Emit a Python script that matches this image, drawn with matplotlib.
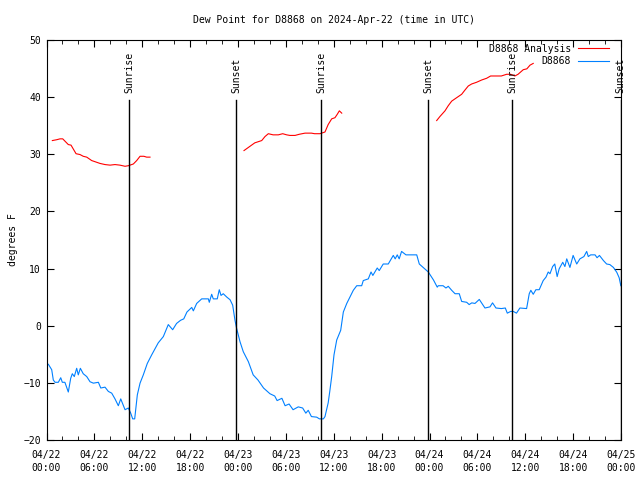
import numpy as np
import pandas as pd
import matplotlib
matplotlib.use('Agg')
import matplotlib.pyplot as plt
import matplotlib.dates as mdates

plt.rcParams['font.family'] = ['DejaVu Sans Mono']
plt.rcParams['font.size'] = 7

start = pd.Timestamp('2024-04-22 00:00')

# D8868 observations: hours since start, dew point (F)
obs_hours = [0.23, 0.65, 0.85, 1.07, 1.48, 1.78, 1.98, 2.3, 2.73, 3.03, 3.23, 3.48, 3.78, 3.98,
             4.24, 4.6, 5.04, 5.45, 5.87, 6.5, 6.8, 7.33, 7.75, 8.17, 8.58, 9.0, 9.3, 9.84,
             10.25, 10.55, 10.8, 11.05, 11.38, 11.72, 12.13, 12.63, 13.18, 14.0, 14.64, 15.26,
             15.81, 16.3, 16.8, 17.2, 17.6, 18.2, 18.4, 18.82, 19.45, 20.28, 20.4, 20.7, 20.9,
             21.4, 21.65, 21.87, 22.15, 22.6, 23.0, 23.33, 23.62, 23.83, 24.25, 24.66, 25.3,
             25.9, 26.5, 27.2, 28.0, 28.6, 28.9, 29.5, 29.9, 30.4, 30.9, 31.55, 32.1, 32.5,
             32.8, 33.2, 33.86, 34.2, 34.7, 34.9, 35.3, 35.5, 35.74, 36.03, 36.37, 36.87, 37.2,
             37.63, 38.45, 38.88, 39.5, 39.7, 40.33, 40.67, 40.9, 41.45, 41.7, 42.2, 42.83,
             43.46, 43.7, 43.96, 44.2, 44.5, 45.05, 46.4, 46.72, 47.2, 47.85, 48.5, 48.97, 49.1,
             49.7, 50.06, 50.35, 50.78, 51.2, 51.73, 52.03, 52.66, 52.97, 53.3, 53.7, 54.24,
             54.95, 55.58, 55.9, 56.33, 57.0, 57.5, 57.75, 58.17, 58.5, 58.9, 59.33, 60.17,
             60.5, 60.7, 61.0, 61.33, 61.75, 62.25, 62.6, 62.88, 63.1, 63.43, 63.7, 64.0, 64.25,
             64.7, 64.97, 65.2, 65.6, 66.0, 66.45, 66.85, 67.35, 67.7, 67.9, 68.2, 68.75, 69.0,
             69.3, 69.8, 70.2, 70.6, 71.05, 71.47, 71.77, 71.98]
obs_dewpt = [-6.75, -7.7, -9.5, -9.9, -9.9, -9.1, -9.9, -9.9, -11.6, -9.2, -8.4, -8.9, -7.45, -8.6,
             -7.45, -8.4, -8.9, -9.8, -10.05, -9.9, -10.9, -10.75, -11.5, -11.8, -12.8, -14.0,
             -12.8, -14.7, -14.4, -15.3, -16.3, -16.3, -12.1, -10.05, -8.6, -6.6, -5.1, -3.0,
             -1.9, 0.2, -0.7, 0.4, 0.95, 1.2, 2.4, 3.2, 2.6, 3.9, 4.7, 4.7, 4.1, 5.5, 4.7, 4.7,
             6.3, 5.3, 5.6, 5.0, 4.55, 3.6, 0.95, -0.5, -2.8, -4.55, -6.3, -8.6, -9.5, -10.9,
             -11.9, -12.3, -13.1, -12.7, -14.0, -13.7, -14.7, -14.2, -14.4, -15.3, -14.8, -15.9,
             -16.0, -16.3, -16.3, -15.9, -13.5, -11.5, -8.9, -5.1, -2.5, -0.8, 2.4, 3.9, 6.2,
             7.0, 7.0, 7.9, 8.2, 9.4, 8.8, 10.1, 9.65, 10.8, 10.8, 12.3, 11.7, 12.4, 11.7, 13.0,
             12.4, 12.4, 10.8, 10.2, 9.4, 8.0, 6.75, 7.0, 7.0, 6.6, 6.9, 6.2, 5.6, 5.6, 4.25,
             4.1, 3.7, 4.0, 3.9, 4.6, 3.1, 3.3, 4.0, 3.1, 3.0, 3.1, 2.2, 2.5, 2.5, 2.2, 3.1, 3.0,
             5.6, 6.2, 5.5, 6.3, 6.3, 7.9, 8.5, 9.4, 9.1, 10.35, 10.8, 8.6, 9.95, 11.1, 10.35,
             11.7, 10.2, 12.3, 10.8, 11.7, 12.1, 13.0, 12.1, 12.4, 12.4, 11.9, 12.3, 11.4, 10.8,
             10.7, 10.2, 9.35, 8.4, 7.0]

# D8868 Analysis (gaps where no analysis)
ana_hours = [0.73, 1.28, 1.69, 2.03, 2.73, 3.07, 3.7, 4.2, 4.6, 5.04, 5.66, 6.08, 6.7, 7.33, 7.96,
             8.58, 9.2, 9.84, 10.25, 10.88, 11.3, 11.72, 12.2, 12.55, 12.97, 18.0,
             24.75, 25.5, 26.1, 26.97, 27.38, 27.8, 28.4, 29.05, 29.6, 30.1, 30.5, 31.15, 31.68,
             32.4, 33.2, 33.6, 34.27, 34.9, 35.3, 35.74, 36.15, 36.44, 36.7, 37.0, 42.0,
             48.9, 49.3, 49.94, 50.35, 50.78, 51.4, 52.03, 52.45, 52.86, 53.28, 53.9, 54.54,
             55.16, 55.66, 56.4, 57.0, 57.67, 58.17, 58.7, 59.1, 59.75, 60.2, 60.6, 61.0]
ana_dewpt = [32.4, 32.55, 32.7, 32.7, 31.7, 31.6, 30.1, 29.95, 29.65, 29.5, 28.9, 28.7, 28.4, 28.2,
             28.1, 28.2, 28.1, 27.9, 28.0, 28.3, 28.9, 29.65, 29.65, 29.5, 29.5, np.nan,
             30.65, 31.4, 32.0, 32.4, 33.1, 33.6, 33.4, 33.4, 33.6, 33.4, 33.3, 33.3, 33.5,
             33.7, 33.7, 33.6, 33.6, 33.9, 35.2, 36.2, 36.4, 37.0, 37.6, 37.2, np.nan,
             35.9, 36.6, 37.6, 38.5, 39.3, 39.9, 40.5, 41.25, 41.95, 42.3, 42.6, 43.0,
             43.3, 43.7, 43.7, 43.7, 44.0, 44.0, 43.7, 44.0, 44.8, 44.95, 45.6, 45.9]

sun_hours = [10.38, 23.78, 34.4, 47.85, 58.37, 71.97]
sun_labels = ['Sunrise', 'Sunset', 'Sunrise', 'Sunset', 'Sunrise', 'Sunset']


def to_time(hours):
    return start + pd.to_timedelta(hours, unit='h')


fig = plt.figure(figsize=(6.4, 4.8), dpi=100)
ax = fig.add_axes([0.0727, 0.0833, 0.8976, 0.8334])

ax.plot(to_time(ana_hours), ana_dewpt, color='#ff0000', lw=0.8, label='D8868 Analysis')
ax.plot(to_time(obs_hours), obs_dewpt, color='#0080ff', lw=0.8, label='D8868')

for h, lab in zip(sun_hours, sun_labels):
    t = to_time(h)
    ax.plot([t, t], [-20, 39.5], color='black', lw=1)
    ax.text(t, 40.8, lab, rotation=90, ha='center', va='bottom')

ax.set_xlim(start, start + pd.Timedelta(hours=72))
ax.set_ylim(-20, 50)
ax.set_yticks(range(-20, 51, 10))
ax.xaxis.set_major_locator(mdates.HourLocator(byhour=range(0, 24, 6)))
ax.xaxis.set_minor_locator(mdates.HourLocator(byhour=range(0, 24, 2)))
ax.xaxis.set_major_formatter(mdates.DateFormatter('%m/%d\n%H:%M'))
ax.tick_params(which='both', direction='in', top=True, right=True)
ax.tick_params(which='major', length=5, pad=7)
ax.tick_params(which='minor', length=3)
ax.tick_params(axis='y', pad=4)
for lab in ax.get_xticklabels():
    lab.set_linespacing(1.4)

ax.set_ylabel('degrees F')
ax.set_title('Dew Point for D8868 on 2024-Apr-22 (time in UTC)', fontsize=7, pad=12)
ax.legend(loc='upper right', bbox_to_anchor=(0.986, 1.0), frameon=False, markerfirst=False,
          handlelength=3.2, borderaxespad=0, labelspacing=0.25, handletextpad=0.7)

fig.savefig('out.png', dpi=100)
